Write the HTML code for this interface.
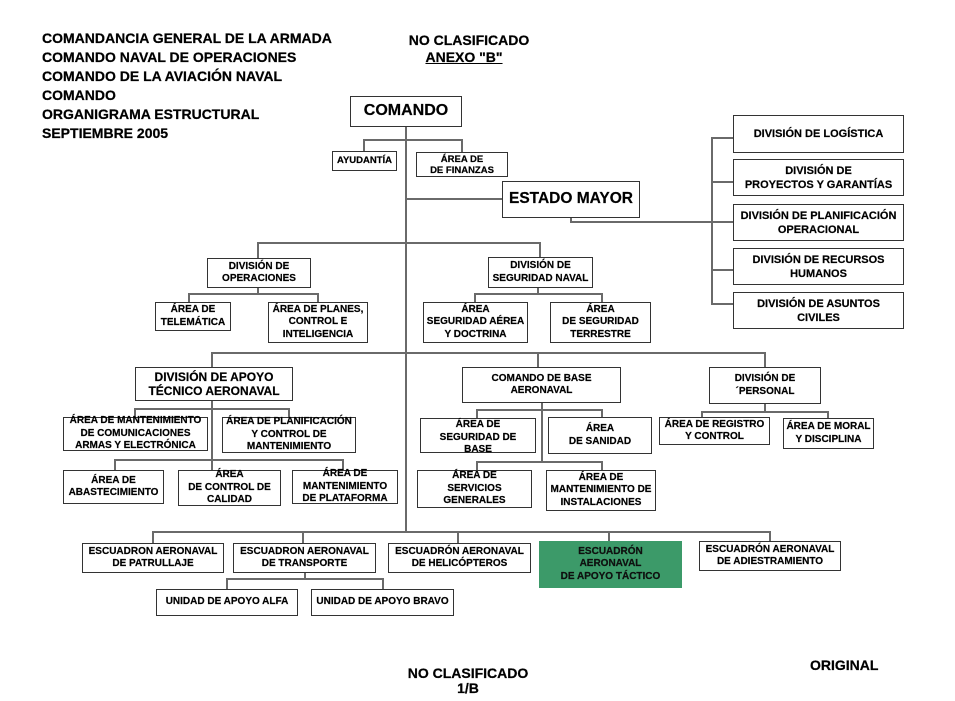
<!DOCTYPE html>
<html><head><meta charset="utf-8">
<style>
html,body{margin:0;padding:0;background:#fff;}
body{width:955px;height:701px;position:relative;overflow:hidden;font-family:"Liberation Sans",Arial,sans-serif;font-weight:bold;color:#000;}
.h{position:absolute;font-size:14px;line-height:19px;white-space:nowrap;-webkit-text-stroke:0.25px #000;}
.b{position:absolute;box-sizing:border-box;border:1px solid #333;background:#fff;display:flex;align-items:center;justify-content:center;text-align:center;font-size:10px;line-height:12.5px;white-space:nowrap;overflow:visible;-webkit-text-stroke:0.2px #000;}
.r{font-size:11px;line-height:14px;}
svg{position:absolute;left:0;top:0;}
</style></head><body>
<svg width="955" height="701" viewBox="0 0 955 701">
<g stroke="#6a6a6a" stroke-width="2" fill="none" stroke-linecap="square">
<line x1="406" y1="126" x2="406" y2="532"/>
<line x1="364" y1="140" x2="462" y2="140"/><line x1="364" y1="140" x2="364" y2="151"/><line x1="462" y1="140" x2="462" y2="152"/>
<line x1="406" y1="199" x2="502" y2="199"/>
<line x1="571" y1="217" x2="571" y2="222"/><line x1="571" y1="222" x2="733" y2="222"/>
<line x1="712" y1="138" x2="712" y2="304"/>
<line x1="712" y1="138" x2="733" y2="138"/><line x1="712" y1="182" x2="733" y2="182"/><line x1="712" y1="270" x2="733" y2="270"/><line x1="712" y1="304" x2="733" y2="304"/>
<line x1="258" y1="243" x2="540" y2="243"/><line x1="258" y1="243" x2="258" y2="258"/><line x1="540" y1="243" x2="540" y2="257"/>
<line x1="258" y1="287" x2="258" y2="294"/><line x1="189" y1="294" x2="318" y2="294"/><line x1="189" y1="294" x2="189" y2="302"/><line x1="318" y1="294" x2="318" y2="302"/>
<line x1="538" y1="287" x2="538" y2="294"/><line x1="475" y1="294" x2="602" y2="294"/><line x1="475" y1="294" x2="475" y2="302"/><line x1="602" y1="294" x2="602" y2="302"/>
<line x1="212" y1="353" x2="765" y2="353"/><line x1="212" y1="353" x2="212" y2="367"/><line x1="538" y1="353" x2="538" y2="367"/><line x1="765" y1="353" x2="765" y2="367"/>
<line x1="212" y1="400" x2="212" y2="470"/><line x1="135" y1="409" x2="289" y2="409"/><line x1="135" y1="409" x2="135" y2="417"/><line x1="289" y1="409" x2="289" y2="417"/>
<line x1="115" y1="460" x2="343" y2="460"/><line x1="115" y1="460" x2="115" y2="470"/><line x1="343" y1="460" x2="343" y2="470"/>
<line x1="542" y1="402" x2="542" y2="462"/><line x1="477" y1="410" x2="602" y2="410"/><line x1="477" y1="410" x2="477" y2="418"/><line x1="602" y1="410" x2="602" y2="417"/>
<line x1="477" y1="462" x2="602" y2="462"/><line x1="477" y1="462" x2="477" y2="470"/><line x1="602" y1="462" x2="602" y2="470"/>
<line x1="765" y1="403" x2="765" y2="412"/><line x1="702" y1="412" x2="828" y2="412"/><line x1="702" y1="412" x2="702" y2="417"/><line x1="828" y1="412" x2="828" y2="418"/>
<line x1="153" y1="532" x2="770" y2="532"/>
<line x1="153" y1="532" x2="153" y2="543"/><line x1="303" y1="532" x2="303" y2="543"/><line x1="458" y1="532" x2="458" y2="543"/><line x1="609" y1="532" x2="609" y2="541"/><line x1="770" y1="532" x2="770" y2="541"/>
<line x1="305" y1="572" x2="305" y2="579"/><line x1="227" y1="579" x2="383" y2="579"/><line x1="227" y1="579" x2="227" y2="589"/><line x1="383" y1="579" x2="383" y2="589"/>
</g>
</svg>

<div class="h" style="left:42px;top:29px;">COMANDANCIA GENERAL DE LA ARMADA<br>COMANDO NAVAL DE OPERACIONES<br>COMANDO DE LA AVIACIÓN NAVAL<br>COMANDO<br>ORGANIGRAMA ESTRUCTURAL<br>SEPTIEMBRE 2005</div>
<div class="h" style="left:369px;width:200px;text-align:center;top:31px;">NO CLASIFICADO</div>
<div class="h" style="left:364px;width:200px;text-align:center;top:48px;"><span style="text-decoration:underline;">ANEXO "B"</span></div>

<div class="b" style="left:350px;top:96px;width:112px;height:31px;font-size:16px;">COMANDO</div>
<div class="b" style="left:332px;top:151px;width:65px;height:20px;font-size:9.5px;">AYUDANTÍA</div>
<div class="b" style="left:416px;top:152px;width:92px;height:25px;font-size:9.5px;line-height:11px;">ÁREA DE<br>DE FINANZAS</div>
<div class="b" style="left:502px;top:181px;width:138px;height:37px;font-size:15.5px;">ESTADO MAYOR</div>

<div class="b r" style="left:733px;top:115px;width:171px;height:38px;">DIVISIÓN DE LOGÍSTICA</div>
<div class="b r" style="left:733px;top:159px;width:171px;height:37px;">DIVISIÓN DE<br>PROYECTOS Y GARANTÍAS</div>
<div class="b r" style="left:733px;top:204px;width:171px;height:37px;">DIVISIÓN DE PLANIFICACIÓN<br>OPERACIONAL</div>
<div class="b r" style="left:733px;top:248px;width:171px;height:37px;">DIVISIÓN DE RECURSOS<br>HUMANOS</div>
<div class="b r" style="left:733px;top:292px;width:171px;height:37px;">DIVISIÓN DE ASUNTOS<br>CIVILES</div>

<div class="b" style="left:207px;top:258px;width:104px;height:30px;">DIVISIÓN DE<br>OPERACIONES</div>
<div class="b" style="left:488px;top:257px;width:105px;height:31px;">DIVISIÓN DE<br>SEGURIDAD NAVAL</div>
<div class="b" style="left:155px;top:302px;width:76px;height:29px;">ÁREA DE<br>TELEMÁTICA</div>
<div class="b" style="left:268px;top:302px;width:100px;height:41px;">ÁREA DE PLANES,<br>CONTROL E<br>INTELIGENCIA</div>
<div class="b" style="left:423px;top:302px;width:105px;height:41px;">ÁREA<br>SEGURIDAD AÉREA<br>Y DOCTRINA</div>
<div class="b" style="left:550px;top:302px;width:101px;height:41px;">ÁREA<br>DE SEGURIDAD<br>TERRESTRE</div>

<div class="b" style="left:135px;top:367px;width:158px;height:34px;font-size:12px;line-height:14px;">DIVISIÓN DE APOYO<br>TÉCNICO AERONAVAL</div>
<div class="b" style="left:63px;top:417px;width:145px;height:34px;">ÁREA DE MANTENIMIENTO<br>DE COMUNICACIONES<br>ARMAS Y ELECTRÓNICA</div>
<div class="b" style="left:222px;top:417px;width:134px;height:36px;">ÁREA DE PLANIFICACIÓN<br>Y CONTROL DE<br>MANTENIMIENTO</div>
<div class="b" style="left:63px;top:470px;width:101px;height:34px;">ÁREA DE<br>ABASTECIMIENTO</div>
<div class="b" style="left:178px;top:470px;width:103px;height:36px;">ÁREA<br>DE CONTROL DE<br>CALIDAD</div>
<div class="b" style="left:292px;top:470px;width:106px;height:34px;">ÁREA DE<br>MANTENIMIENTO<br>DE PLATAFORMA</div>

<div class="b" style="left:462px;top:367px;width:159px;height:36px;">COMANDO DE BASE<br>AERONAVAL</div>
<div class="b" style="left:420px;top:418px;width:116px;height:35px;align-items:flex-start;padding-top:0px;">ÁREA DE<br>SEGURIDAD DE<br>BASE</div>
<div class="b" style="left:548px;top:417px;width:104px;height:37px;">ÁREA<br>DE SANIDAD</div>
<div class="b" style="left:417px;top:470px;width:115px;height:38px;">ÁREA DE<br>SERVICIOS<br>GENERALES</div>
<div class="b" style="left:546px;top:470px;width:110px;height:41px;">ÁREA DE<br>MANTENIMIENTO DE<br>INSTALACIONES</div>

<div class="b" style="left:709px;top:367px;width:112px;height:37px;">DIVISIÓN DE<br>´PERSONAL</div>
<div class="b" style="left:659px;top:417px;width:111px;height:28px;">ÁREA DE REGISTRO<br>Y CONTROL</div>
<div class="b" style="left:783px;top:418px;width:91px;height:31px;">ÁREA DE MORAL<br>Y DISCIPLINA</div>

<div class="b" style="left:82px;top:543px;width:142px;height:30px;">ESCUADRON AERONAVAL<br>DE PATRULLAJE</div>
<div class="b" style="left:233px;top:543px;width:143px;height:30px;">ESCUADRON AERONAVAL<br>DE TRANSPORTE</div>
<div class="b" style="left:388px;top:543px;width:143px;height:30px;">ESCUADRÓN AERONAVAL<br>DE HELICÓPTEROS</div>
<div class="b" style="left:539px;top:541px;width:143px;height:47px;background:#3c9a69;border-color:#3c9a69;color:#111;">ESCUADRÓN<br>AERONAVAL<br>DE APOYO TÁCTICO</div>
<div class="b" style="left:699px;top:541px;width:142px;height:30px;">ESCUADRÓN AERONAVAL<br>DE ADIESTRAMIENTO</div>
<div class="b" style="left:156px;top:589px;width:142px;height:27px;">UNIDAD DE APOYO ALFA</div>
<div class="b" style="left:311px;top:589px;width:143px;height:27px;">UNIDAD DE APOYO BRAVO</div>

<div class="h" style="left:368px;width:200px;text-align:center;top:664px;">NO CLASIFICADO</div>
<div class="h" style="left:368px;width:200px;text-align:center;top:679px;">1/B</div>
<div class="h" style="left:810px;top:656px;">ORIGINAL</div>
</body></html>
